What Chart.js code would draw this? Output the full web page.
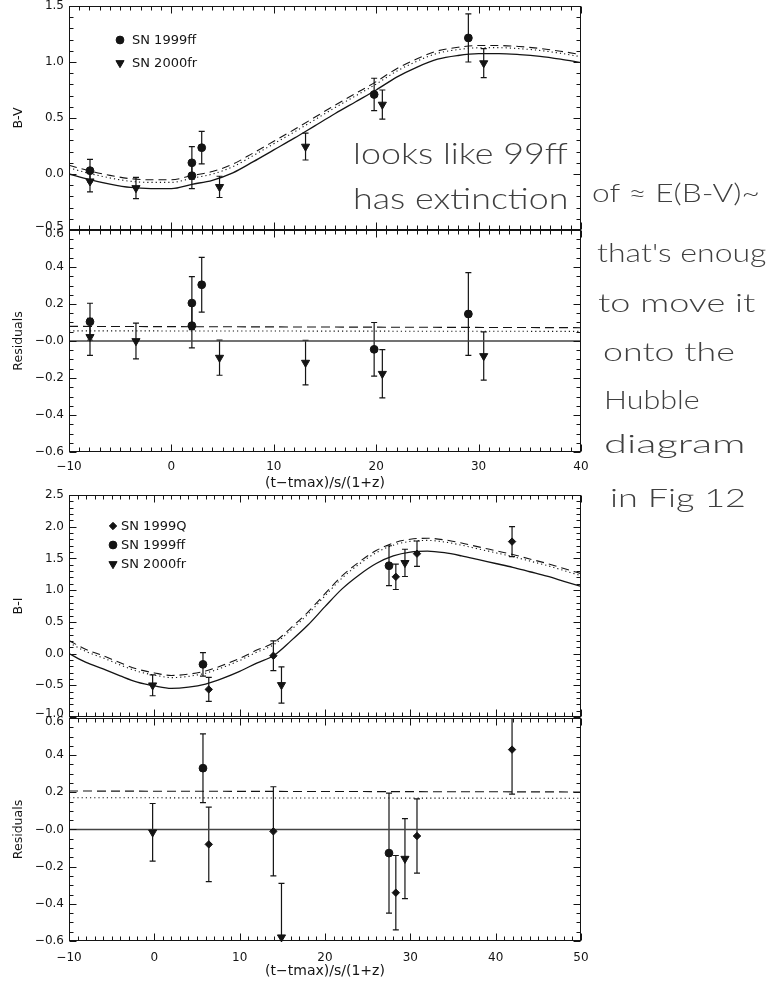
<!DOCTYPE html>
<html lang="en">
<head>
<meta charset="utf-8">
<title>B-V and B-I colour curves</title>
<script src="https://cdn.jsdelivr.net/npm/chart.js@4.4.1/dist/chart.umd.min.js"></script>
<style>
  html, body { margin: 0; background: #fff; }
  #page { position: relative; width: 772px; height: 983px; overflow: hidden; background: #fff; }
  #page canvas { position: absolute; left: 0; }
  .note { position: absolute; white-space: nowrap; font-family: Lato, "Open Sans", sans-serif; font-weight: 300;
          color: #3f3f3f; line-height: 1; transform-origin: 0 0; }
</style>
</head>
<body>
<div id="page">
  <canvas id="bv" width="772" height="252" style="top:-8px"></canvas>
  <canvas id="bvRes" width="772" height="276" style="top:216px"></canvas>
  <canvas id="bi" width="772" height="250" style="top:481px"></canvas>
  <canvas id="biRes" width="772" height="279" style="top:704px"></canvas>
</div>
<script>
// ---- B-V panel ----
const bvX = [-10, -8, -6, -4, -2, 0, 2, 4, 6, 8, 10, 12, 14, 16, 18, 20, 22, 24, 26, 28, 30, 32, 34, 36, 38, 40];
const bvModel = [0.00, -0.05, -0.09, -0.12, -0.13, -0.13, -0.092, -0.056, 0.01, 0.11, 0.215, 0.32, 0.43, 0.54, 0.645, 0.75, 0.865, 0.955, 1.025, 1.058, 1.074, 1.075, 1.066, 1.05, 1.025, 0.995];
const bvModelDash = [0.078, 0.028, -0.012, -0.042, -0.052, -0.052, -0.014, 0.022, 0.088, 0.188, 0.292, 0.397, 0.506, 0.616, 0.72, 0.825, 0.94, 1.029, 1.099, 1.131, 1.147, 1.147, 1.138, 1.121, 1.096, 1.066];
const bvModelDot = [0.055, 0.005, -0.035, -0.065, -0.075, -0.075, -0.037, -0.001, 0.065, 0.165, 0.27, 0.375, 0.484, 0.594, 0.698, 0.803, 0.918, 1.008, 1.078, 1.111, 1.127, 1.128, 1.119, 1.103, 1.078, 1.047];

const ff99X = [-7.95, 2.0, 2.0, 2.96, 19.8, 29.0];
const ff99BV = [0.03, 0.10, -0.015, 0.235, 0.71, 1.215];
const ff99BVErr = [0.10, 0.145, 0.115, 0.145, 0.145, 0.215];
const fr00X = [-7.95, -3.46, 4.7, 13.1, 20.6, 30.5];
const fr00BV = [-0.065, -0.125, -0.115, 0.245, 0.62, 0.99];
const fr00BVErr = [0.095, 0.095, 0.095, 0.12, 0.13, 0.13];

// residuals against the B-V model
const ff99BVRes = [0.104, 0.205, 0.083, 0.304, -0.045, 0.146];
const ff99BVResErr = [0.10, 0.143, 0.12, 0.148, 0.145, 0.224];
const fr00BVRes = [0.022, 0.0, -0.09, -0.117, -0.177, -0.081];
const fr00BVResErr = [0.10, 0.097, 0.095, 0.12, 0.13, 0.13];
const bvResX = [-10, 40];
const bvResZero = [0, 0];
const bvResDash = [0.079, 0.072];
const bvResDot = [0.055, 0.052];

// ---- B-I panel ----
const biX = [-10, -8, -6, -4, -2, 0, 2, 4, 6, 8, 10, 12, 14, 16, 18, 20, 22, 24, 26, 28, 30, 32, 34, 36, 38, 40, 42, 44, 46, 48, 50];
const biModel = [0.00, -0.14, -0.24, -0.35, -0.45, -0.51, -0.55, -0.53, -0.48, -0.39, -0.28, -0.15, -0.03, 0.20, 0.45, 0.74, 1.02, 1.24, 1.42, 1.54, 1.60, 1.615, 1.59, 1.54, 1.48, 1.42, 1.36, 1.29, 1.22, 1.14, 1.06];
const biModelDash = [0.205, 0.065, -0.035, -0.145, -0.245, -0.305, -0.345, -0.325, -0.275, -0.185, -0.075, 0.055, 0.175, 0.405, 0.655, 0.944, 1.224, 1.444, 1.624, 1.743, 1.803, 1.818, 1.793, 1.742, 1.682, 1.622, 1.562, 1.491, 1.421, 1.341, 1.26];
const biModelDot = [0.171, 0.031, -0.069, -0.179, -0.279, -0.339, -0.379, -0.359, -0.309, -0.219, -0.109, 0.021, 0.141, 0.371, 0.621, 0.91, 1.19, 1.41, 1.59, 1.709, 1.769, 1.784, 1.759, 1.709, 1.649, 1.589, 1.529, 1.459, 1.389, 1.309, 1.228];

const q99X = [6.38, 13.95, 28.3, 30.78, 41.92];
const q99BI = [-0.565, -0.035, 1.21, 1.575, 1.765];
const q99BIErr = [0.19, 0.235, 0.2, 0.2, 0.235];
const ff99BIX = [5.7, 27.5];
const ff99BI = [-0.17, 1.385];
const ff99BIErr = [0.185, 0.315];
const fr00BIX = [-0.2, 14.9, 29.37];
const fr00BI = [-0.5, -0.495, 1.43];
const fr00BIErr = [0.165, 0.285, 0.215];

// residuals against the B-I model
const q99BIRes = [-0.08, -0.01, -0.34, -0.035, 0.43];
const q99BIResErr = [0.2, 0.24, 0.2, 0.2, 0.24];
const ff99BIRes = [0.33, -0.127];
const ff99BIResErr = [0.185, 0.323];
const fr00BIRes = [-0.015, -0.58, -0.157];
const fr00BIResErr = [0.155, 0.29, 0.215];
const biResX = [-10, 50];
const biResZero = [0, 0];
const biResDash = [0.207, 0.202];
const biResDot = [0.171, 0.168];

// ---- axes ----
const xTopTicks = [-10, 0, 10, 20, 30, 40];
const xTopLabels = ['−10', '0', '10', '20', '30', '40'];
const xBotTicks = [-10, 0, 10, 20, 30, 40, 50];
const xBotLabels = ['−10', '0', '10', '20', '30', '40', '50'];
const bvTicks = [-0.5, 0, 0.5, 1.0, 1.5];
const bvTickLabels = ['−0.5', '0.0', '0.5', '1.0', '1.5'];
const biTicks = [-1.0, -0.5, 0, 0.5, 1.0, 1.5, 2.0, 2.5];
const biTickLabels = ['−1.0', '−0.5', '0.0', '0.5', '1.0', '1.5', '2.0', '2.5'];
const resTicks = [-0.6, -0.4, -0.2, 0, 0.2, 0.4, 0.6];
const resTickLabels = ['−0.6', '−0.4', '−0.2', '−0.0', '0.2', '0.4', '0.6'];
const bvNames = ['SN 1999ff', 'SN 2000fr'];
const biNames = ['SN 1999Q', 'SN 1999ff', 'SN 2000fr'];
const xTitle = '(t−tmax)/s/(1+z)';

const ink = '#141414';
Chart.defaults.font.family = '"DejaVu Sans", sans-serif';
Chart.defaults.color = ink;

const circle = { shape: 'circle', r: 3.9, rot: 0 };
const tri = { shape: 'triangle', r: 4.7, rot: 180 };
const diamond = { shape: 'rectRot', r: 3.7, rot: 0 };

function pts(xs, ys) { return xs.map((x, i) => ({ x, y: ys[i] })); }

function curve(xs, ys, dash, width, color) {
  return {
    type: 'line', data: pts(xs, ys), borderColor: color || ink, borderWidth: width || 1.1,
    borderDash: dash || [], pointRadius: 0, fill: false, cubicInterpolationMode: 'monotone', order: 2
  };
}

function marks(xs, ys, errs, m) {
  return {
    type: 'scatter', data: pts(xs, ys), errors: errs,
    pointStyle: m.shape, pointRotation: m.rot, pointRadius: m.r,
    pointBackgroundColor: ink, pointBorderColor: ink, pointBorderWidth: 1, clip: false, order: 1
  };
}

// box round the plot with inward ticks on all four sides
const framePlugin = {
  id: 'frame',
  afterDatasetsDraw(chart, args, o) {
    const { ctx, chartArea: a, scales: { x, y } } = chart;
    ctx.save();
    ctx.strokeStyle = ink;
    ctx.lineWidth = 1;
    const L = Math.round(a.left) + 0.5, R = Math.round(a.right) - 0.5;
    const T = Math.round(a.top) + 0.5, B = Math.round(a.bottom) - 0.5;
    ctx.strokeRect(L, T, R - L, B - T);
    ctx.beginPath();
    const nx = Math.round((x.max - x.min) / o.xMinor), kx = Math.round(o.xMajor / o.xMinor);
    for (let i = 0; i <= nx; i++) {
      const p = Math.round(x.getPixelForValue(x.min + i * o.xMinor)) + 0.5;
      const len = i % kx === 0 ? 7 : 4;
      ctx.moveTo(p, T); ctx.lineTo(p, T + len);
      ctx.moveTo(p, B); ctx.lineTo(p, B - len);
    }
    const ny = Math.round((y.max - y.min) / o.yMinor), ky = Math.round(o.yMajor / o.yMinor);
    for (let i = 0; i <= ny; i++) {
      const p = Math.round(y.getPixelForValue(y.min + i * o.yMinor)) + 0.5;
      const len = i % ky === 0 ? 7 : 4;
      ctx.moveTo(L, p); ctx.lineTo(L + len, p);
      ctx.moveTo(R, p); ctx.lineTo(R - len, p);
    }
    ctx.stroke();
    ctx.restore();
  }
};

// vertical error bars with small caps
const errorPlugin = {
  id: 'errbars',
  beforeDatasetsDraw(chart) {
    const { ctx, chartArea: a, scales: { x, y } } = chart;
    ctx.save();
    ctx.beginPath();
    ctx.rect(a.left, a.top, a.right - a.left, a.bottom - a.top);
    ctx.clip();
    ctx.strokeStyle = ink;
    ctx.lineWidth = 1.2;
    chart.data.datasets.forEach(ds => {
      if (!ds.errors) return;
      ds.data.forEach((p, i) => {
        const px = x.getPixelForValue(p.x);
        const hi = y.getPixelForValue(p.y + ds.errors[i]);
        const lo = y.getPixelForValue(p.y - ds.errors[i]);
        ctx.beginPath();
        ctx.moveTo(px, hi); ctx.lineTo(px, lo);
        ctx.moveTo(px - 3, hi); ctx.lineTo(px + 3, hi);
        ctx.moveTo(px - 3, lo); ctx.lineTo(px + 3, lo);
        ctx.stroke();
      });
    });
    ctx.restore();
  }
};

// symbol key inside the plot
const keyPlugin = {
  id: 'key',
  afterDatasetsDraw(chart, args, o) {
    if (!o || !o.labels) return;
    const { ctx, chartArea: a } = chart;
    ctx.save();
    ctx.font = '13px "DejaVu Sans"';
    ctx.textBaseline = 'middle';
    ctx.fillStyle = ink;
    ctx.strokeStyle = ink;
    o.labels.forEach((text, i) => {
      const ds = chart.data.datasets[o.datasets[i]];
      const mx = a.left + o.x, my = a.top + o.y + i * o.gap;
      Chart.helpers.drawPoint(ctx, { pointStyle: ds.pointStyle, rotation: ds.pointRotation, radius: ds.pointRadius, borderWidth: 1 }, mx, my);
      ctx.fillText(text, mx + o.textGap, my + 1);
    });
    ctx.restore();
  }
};

function panel(id, c) {
  const showX = !!c.xLabels;
  return new Chart(document.getElementById(id), {
    type: 'scatter',
    data: { datasets: c.datasets },
    options: {
      responsive: false, animation: false, events: [],
      layout: { padding: { left: 0, top: 14, right: 191, bottom: showX ? 0 : 14 } },
      plugins: {
        legend: { display: false }, tooltip: { enabled: false },
        frame: { xMajor: 10, xMinor: 1, yMajor: c.yMajor, yMinor: c.yMinor },
        key: c.key || {}
      },
      scales: {
        x: {
          type: 'linear', min: c.xMin, max: c.xMax, display: showX,
          grid: { display: false, drawTicks: false, tickLength: 0 }, border: { display: false },
          afterBuildTicks: s => { s.ticks = c.xTicks.map(v => ({ value: v })); },
          afterFit: s => { if (showX) s.height = c.xHeight; },
          ticks: {
            font: { size: 12 }, color: ink, padding: c.xPad || 0, maxRotation: 0, autoSkip: false,
            callback: (v, i) => (showX ? c.xLabels[i] : '')
          },
          title: { display: showX, text: xTitle, font: { size: 14 }, color: ink, padding: { top: 0, bottom: c.titlePad || 0 } }
        },
        y: {
          type: 'linear', min: c.yMin, max: c.yMax,
          grid: { display: false, drawTicks: false, tickLength: 0 }, border: { display: false },
          afterBuildTicks: s => { s.ticks = c.yTicks.map(v => ({ value: v })); },
          afterFit: s => { s.width = 69; },
          ticks: {
            font: { size: 12, lineHeight: 0.6 }, color: ink, padding: 5, autoSkip: false,
            callback: (v, i) => {
              const t = c.yLabels[i];
              if (c.lowShift && i === 0) return [t, ''];
              if (c.highShift && i === c.yLabels.length - 1) return ['', t];
              return t;
            }
          },
          title: { display: true, text: c.yTitle, font: { size: 12.5 }, color: ink, padding: { top: 11.5, bottom: 0 } }
        }
      }
    },
    plugins: [errorPlugin, framePlugin, keyPlugin]
  });
}

panel('bv', {
  xMin: -10, xMax: 40, xTicks: xTopTicks,
  yMin: -0.5, yMax: 1.5, yTicks: bvTicks, yLabels: bvTickLabels, yMajor: 0.5, yMinor: 0.1, yTitle: 'B-V', lowShift: true,
  datasets: [
    marks(ff99X, ff99BV, ff99BVErr, circle),
    marks(fr00X, fr00BV, fr00BVErr, tri),
    curve(bvX, bvModel, [], 1.3),
    curve(bvX, bvModelDash, [8, 5]),
    curve(bvX, bvModelDot, [1.2, 3])
  ],
  key: { labels: bvNames, datasets: [0, 1], x: 51, y: 34, gap: 23, textGap: 12 }
});

panel('bvRes', {
  xMin: -10, xMax: 40, xTicks: xTopTicks, xLabels: xTopLabels, xHeight: 40, xPad: 7.5, titlePad: 0.5,
  yMin: -0.6, yMax: 0.6, yTicks: resTicks, yLabels: resTickLabels, yMajor: 0.2, yMinor: 0.05, yTitle: 'Residuals', highShift: true,
  datasets: [
    marks(ff99X, ff99BVRes, ff99BVResErr, circle),
    marks(fr00X, fr00BVRes, fr00BVResErr, tri),
    curve(bvResX, bvResZero, [], 1.6, '#444'),
    curve(bvResX, bvResDash, [9, 5]),
    curve(bvResX, bvResDot, [1.2, 3])
  ]
});

panel('bi', {
  xMin: -10, xMax: 50, xTicks: xBotTicks,
  yMin: -1.0, yMax: 2.5, yTicks: biTicks, yLabels: biTickLabels, yMajor: 0.5, yMinor: 0.1, yTitle: 'B-I', lowShift: true,
  datasets: [
    marks(q99X, q99BI, q99BIErr, diamond),
    marks(ff99BIX, ff99BI, ff99BIErr, circle),
    marks(fr00BIX, fr00BI, fr00BIErr, tri),
    curve(biX, biModel, [], 1.3),
    curve(biX, biModelDash, [8, 5]),
    curve(biX, biModelDot, [1.2, 3])
  ],
  key: { labels: biNames, datasets: [0, 1, 2], x: 44, y: 31, gap: 19, textGap: 8 }
});

panel('biRes', {
  xMin: -10, xMax: 50, xTicks: xBotTicks, xLabels: xBotLabels, xHeight: 42, xPad: 10, titlePad: 3,
  yMin: -0.6, yMax: 0.6, yTicks: resTicks, yLabels: resTickLabels, yMajor: 0.2, yMinor: 0.05, yTitle: 'Residuals', highShift: true,
  datasets: [
    marks(q99X, q99BIRes, q99BIResErr, diamond),
    marks(ff99BIX, ff99BIRes, ff99BIResErr, circle),
    marks(fr00BIX, fr00BIRes, fr00BIResErr, tri),
    curve(biResX, biResZero, [], 1.6, '#444'),
    curve(biResX, biResDash, [9, 5]),
    curve(biResX, biResDot, [1.2, 3])
  ]
});

// pencilled notes written over and beside the plots
const notes = [
  { text: 'looks like 99ff', x: 353, base: 164, w: 215, size: 30 },
  { text: 'has extinction', x: 353, base: 209, w: 215, size: 30 },
  { text: 'of ≈ E(B-V)~', x: 592, base: 202, w: 168, size: 26 },
  { text: "that's enoug", x: 597, base: 262, w: 170, size: 26 },
  { text: 'to move it', x: 598, base: 312, w: 158, size: 26 },
  { text: 'onto the', x: 603, base: 361, w: 132, size: 26 },
  { text: 'Hubble', x: 604, base: 409, w: 96, size: 26 },
  { text: 'diagram', x: 604, base: 453, w: 141, size: 26 },
  { text: 'in Fig 12', x: 610, base: 507, w: 136, size: 26 }
];
const page = document.getElementById('page');
notes.forEach(n => {
  const d = document.createElement('div');
  d.className = 'note';
  d.style.fontSize = n.size + 'px';
  d.textContent = n.text;
  const m = document.createElement('span');
  m.style.cssText = 'display:inline-block;width:0;height:0;vertical-align:baseline';
  d.appendChild(m);
  page.appendChild(d);
  const baseOff = m.offsetTop;
  const w = d.offsetWidth;
  d.style.left = n.x + 'px';
  d.style.top = (n.base - baseOff) + 'px';
  d.style.transform = 'scale(' + (n.w / w) + ', 1)';
});
</script>
</body>
</html>
